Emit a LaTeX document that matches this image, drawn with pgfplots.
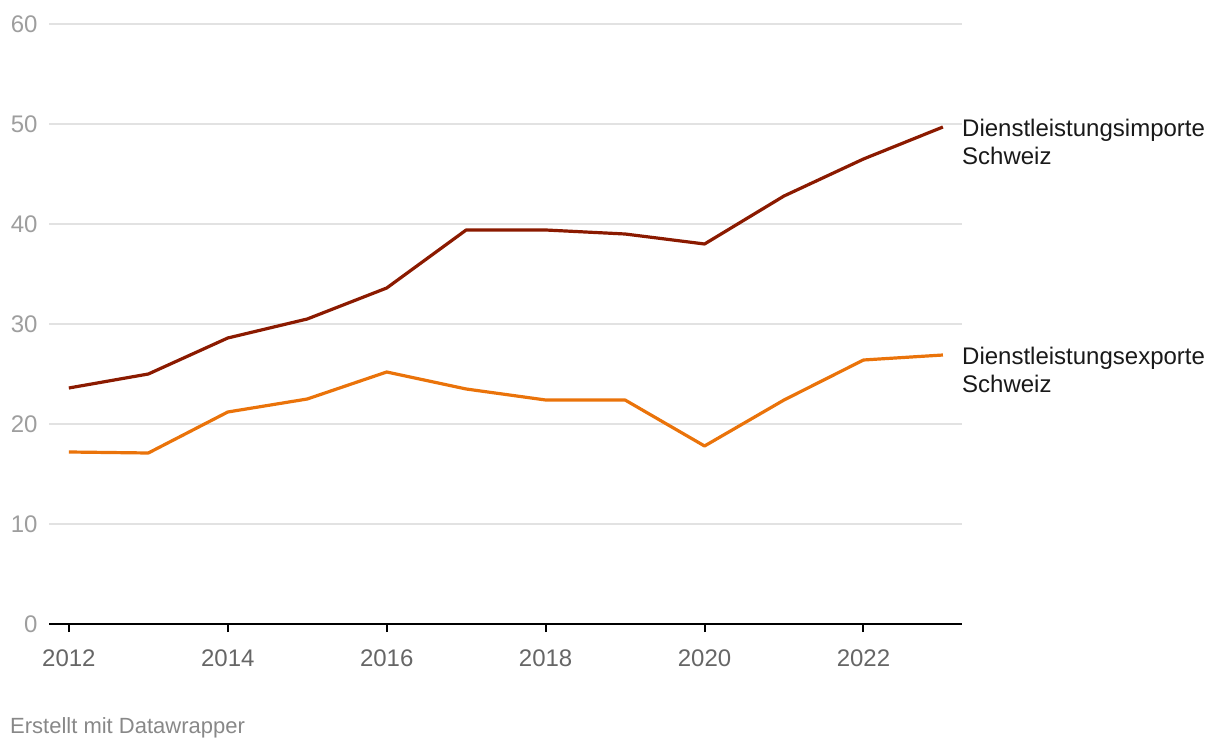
\documentclass[border=0pt]{standalone}
\usepackage{fontspec}
\setmainfont{Liberation Sans}
\usepackage{pgfplots}
\pgfplotsset{compat=1.18}
\definecolor{imp}{RGB}{139,26,0}
\definecolor{expc}{RGB}{234,115,10}
\definecolor{gridc}{RGB}{226,226,226}
\definecolor{ylab}{RGB}{158,158,158}
\definecolor{xlab}{RGB}{102,102,102}
\definecolor{foot}{RGB}{136,136,136}
\begin{document}
\begin{tikzpicture}[x=1pt,y=1pt]
\useasboundingbox (0,0) rectangle (1220,750);
\begin{axis}[
  at={(49pt,126pt)}, anchor=south west,
  width=913pt, height=600pt, scale only axis,
  xmin=2011.75, xmax=2023.24, ymin=0, ymax=60,
  axis x line*=bottom, axis y line*=left,
  x axis line style={-, black, line width=2pt},
  y axis line style={draw=none},
  xtick={2012,2014,...,2022}, ytick={0,10,...,60},
  xtick align=outside, major tick length=8pt,
  xtick style={black, line width=2pt},
  ytick style={draw=none},
  ymajorgrids, grid style={gridc, line width=1.2pt},
  /pgf/number format/1000 sep={},
  /pgf/number format/assume math mode=true,
  xticklabel style={font=\fontsize{24}{28}\selectfont, text=xlab, yshift=-14pt},
  yticklabel style={font=\fontsize{24}{28}\selectfont, text=ylab, anchor=east, xshift=-8pt},
  clip=false,
]
\addplot[imp, line width=3.2pt, line join=round] coordinates {
(2012,23.6) (2013,25.0) (2014,28.6) (2015,30.5) (2016,33.6) (2017,39.4)
(2018,39.4) (2019,39.0) (2020,38.0) (2021,42.8) (2022,46.5) (2023,49.7)};
\addplot[expc, line width=3.2pt, line join=round] coordinates {
(2012,17.2) (2013,17.1) (2014,21.2) (2015,22.5) (2016,25.2) (2017,23.5)
(2018,22.4) (2019,22.4) (2020,17.8) (2021,22.4) (2022,26.4) (2023,26.9)};
\node[anchor=west, align=left, inner sep=0pt, font=\fontsize{24}{28}\selectfont, text=black!90]
  at (axis cs:2023.24,48.2) {Dienstleistungsimporte\\Schweiz};
\node[anchor=west, align=left, inner sep=0pt, font=\fontsize{24}{28}\selectfont, text=black!90]
  at (axis cs:2023.24,25.4) {Dienstleistungsexporte\\Schweiz};
\end{axis}
\node[anchor=base west, inner sep=0pt, font=\fontsize{22}{26}\selectfont, text=foot] at (10,17) {Erstellt mit Datawrapper};
\end{tikzpicture}
\end{document}
